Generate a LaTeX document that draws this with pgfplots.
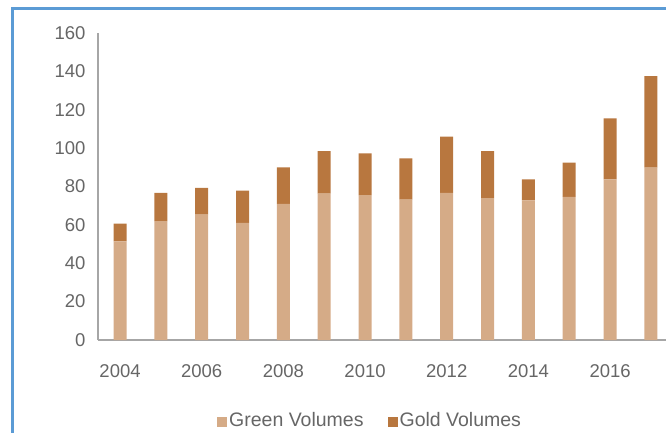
\documentclass[border=0pt]{standalone}
\usepackage{fontspec}
\setmainfont{Liberation Sans}
\usepackage{pgfplots}
\pgfplotsset{compat=1.18}
\definecolor{greenv}{HTML}{D5AB87}
\definecolor{goldv}{HTML}{B8773F}
\definecolor{bordercol}{HTML}{5B9BD5}
\definecolor{txt}{HTML}{666666}
\begin{document}
\begin{tikzpicture}
\path[use as bounding box] (0,0) rectangle (666pt,432pt);
\clip (0,0) rectangle (666pt,432pt);
\draw[bordercol, line width=3pt] (12.5pt,-5pt) -- (12.5pt,423.5pt) -- (700pt,423.5pt);
\begin{axis}[
  at={(98pt,92pt)}, anchor=south west,
  scale only axis, width=568pt, height=307pt,
  xmin=2003.46, xmax=2017.37, ymin=0, ymax=160,
  axis x line=bottom, axis y line=left,
  axis line style={draw=gray!70, line width=1.2pt, -},
  ybar stacked, bar width=13pt,
  xtick={2004,2006,...,2016}, ytick={0,20,...,160},
  major tick length=0pt,
  /pgf/number format/assume math mode=true,
  x tick label style={/pgf/number format/1000 sep={}, yshift=-21pt},
  y tick label style={xshift=-9pt},
  tick label style={font=\fontsize{18.5}{21}\selectfont, text=txt},
  legend style={at={(0.479,-0.26)}, anchor=center, draw=none, fill=none,
    legend columns=2, font=\fontsize{19.5}{22}\selectfont, text=txt,
    /tikz/every even column/.append style={column sep=22pt}},
  legend image code/.code={\fill[#1] (0pt,-7pt) rectangle (10pt,3pt);},
]
\addplot[fill=greenv, draw=none] coordinates {
(2004,51.4) (2005,61.9) (2006,65.4) (2007,61.0) (2008,71.0) (2009,76.3)
(2010,75.5) (2011,73.2) (2012,76.7) (2013,74.0) (2014,72.8) (2015,74.6)
(2016,83.7) (2017,89.8)};
\addplot[fill=goldv, draw=none] coordinates {
(2004,9.3) (2005,14.8) (2006,13.9) (2007,16.9) (2008,19.0) (2009,22.2)
(2010,21.8) (2011,21.4) (2012,29.3) (2013,24.5) (2014,10.9) (2015,17.8)
(2016,31.8) (2017,47.7)};
\legend{Green Volumes, Gold Volumes}
\end{axis}
\end{tikzpicture}
\end{document}
